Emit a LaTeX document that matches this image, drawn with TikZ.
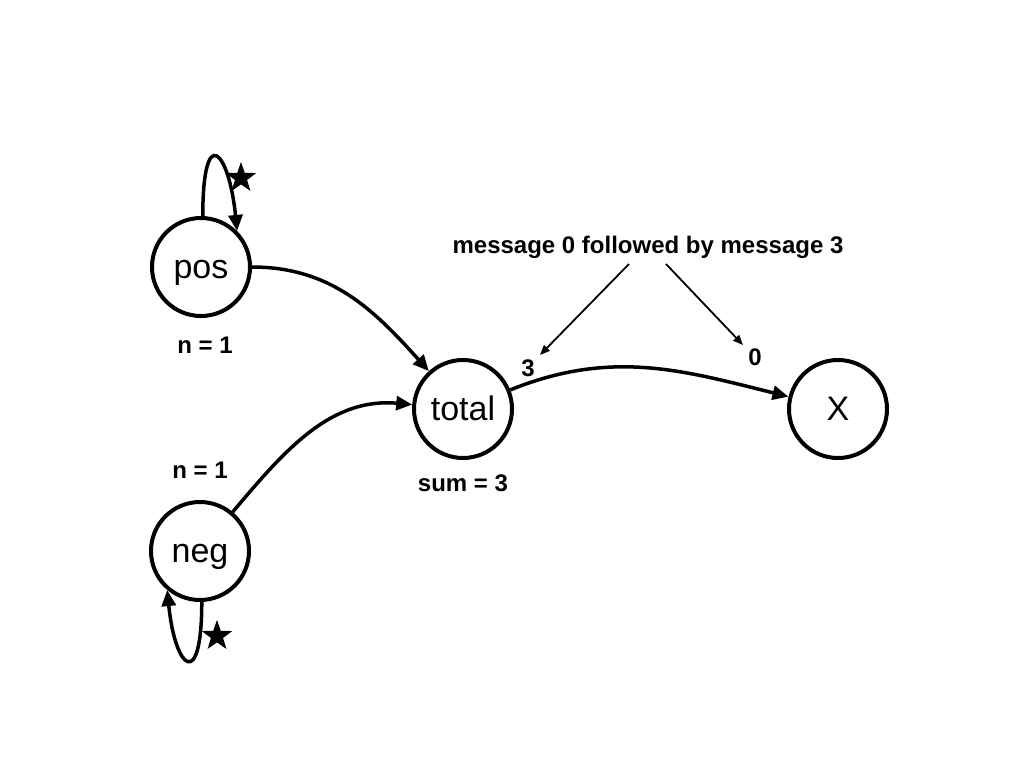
\documentclass[tikz,border=0pt]{standalone}
\usepackage{fontspec}
\setmainfont{Liberation Sans}
\usetikzlibrary{arrows.meta,shapes.geometric}
\begin{document}
\begin{tikzpicture}[x=0.5pt,y=0.5pt,
  state/.style={circle,draw,line width=2pt,minimum size=49pt,inner sep=0pt,text height=11pt,text depth=0pt,font=\fontsize{17}{20}\selectfont},
  lbl/.style={font=\bfseries\fontsize{12}{14}\selectfont,inner sep=0pt},
  edge/.style={line width=1.75pt,-{Triangle[length=8pt,width=7pt]}},
  thinarrow/.style={line width=0.9pt,-{Triangle[length=5pt,width=4pt]}},
  starmark/.style={star,star points=5,star point ratio=2.5,fill=black,minimum size=16pt,inner sep=0pt}]
\useasboundingbox (0,0) rectangle (1024,768);
\node[state] (pos) at (201,501) {pos};
\node[state] (neg) at (200,217) {neg};
\node[state] (total) at (463,359) {total};
\node[state] (X) at (838,359) {X};
\node[lbl] (npos) at (205,423) {n = 1};
\node[lbl] (nneg) at (200,298) {n = 1};
\node[lbl] (sum) at (463,285) {sum = 3};
\node[lbl] (three) at (528,400) {3};
\node[lbl] (zero) at (755,411) {0};
\node[lbl] (msg) at (648,521) {message 0 followed by message 3};
\node[starmark] (spos) at (241,590) {};
\node[starmark] (sneg) at (217,132) {};
\draw[edge] (pos.88) .. controls +(0,95) and +(-8,80) .. (pos.45);
\draw[edge] (neg.272) .. controls +(0,-90) and +(8,-80) .. (neg.230);
\draw[edge] (pos) to[out=0,in=132] (total);
\draw[edge] (neg) to[out=50,in=175] (total);
\draw[edge] (total) to[out=22,in=166] (X);
\coordinate (a1) at (629,504);
\coordinate (a2) at (666,504);
\coordinate (b1) at (540,413);
\coordinate (b2) at (743,423);
\draw[thinarrow] (a1) -- (b1);
\draw[thinarrow] (a2) -- (b2);
\end{tikzpicture}
\end{document}
